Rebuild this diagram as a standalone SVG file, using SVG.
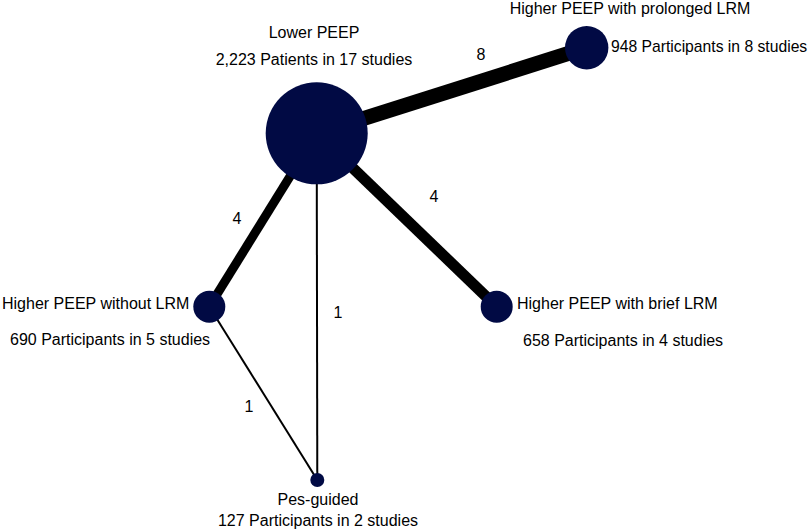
<svg xmlns="http://www.w3.org/2000/svg" width="810" height="531" viewBox="0 0 810 531">
<style>
text{font-family:"Liberation Sans",Arial,sans-serif;font-size:16px;fill:#000}
.n{fill:#010a44}
.e{stroke:#000;fill:none}
</style>
<rect width="810" height="531" fill="#fff"/>
<g id="connectors">
<line class="e" x1="316.7" y1="133.3" x2="586.7" y2="47.7" stroke-width="15"/>
<line class="e" x1="316.7" y1="133.3" x2="209.3" y2="306.7" stroke-width="9"/>
<line class="e" x1="316.7" y1="133.3" x2="496.7" y2="306.7" stroke-width="11"/>
<line class="e" x1="316.7" y1="133.3" x2="317.3" y2="480" stroke-width="2"/>
<line class="e" x1="209.3" y1="306.7" x2="317.3" y2="480" stroke-width="2"/>
<text x="481" y="60" text-anchor="middle">8</text>
<text x="237" y="224" text-anchor="middle">4</text>
<text x="434" y="202" text-anchor="middle">4</text>
<text x="338" y="318" text-anchor="middle">1</text>
<text x="249" y="412" text-anchor="middle">1</text>
</g>
<g id="lower">
<circle class="n" cx="316.7" cy="133.3" r="51"/>
<text x="314" y="38" text-anchor="middle">Lower PEEP</text>
<text x="314" y="65" text-anchor="middle">2,223 Patients in 17 studies</text>
</g>
<g id="prolonged">
<circle class="n" cx="586.7" cy="47.7" r="21.7"/>
<text x="630" y="14" text-anchor="middle">Higher PEEP with prolonged LRM</text>
<text x="611" y="52" style="font-size:15.7px">948 Participants in 8 studies</text>
</g>
<g id="without">
<circle class="n" cx="209.3" cy="306.7" r="16"/>
<text x="2" y="309">Higher PEEP without LRM</text>
<text x="10" y="345">690 Participants in 5 studies</text>
</g>
<g id="brief">
<circle class="n" cx="496.7" cy="306.7" r="16"/>
<text x="517" y="309">Higher PEEP with brief LRM</text>
<text x="523" y="346">658 Participants in 4 studies</text>
</g>
<g id="pes">
<circle class="n" cx="317.3" cy="480" r="7"/>
<text x="318" y="505" text-anchor="middle">Pes-guided</text>
<text x="318" y="526" text-anchor="middle">127 Participants in 2 studies</text>
</g>
</svg>
